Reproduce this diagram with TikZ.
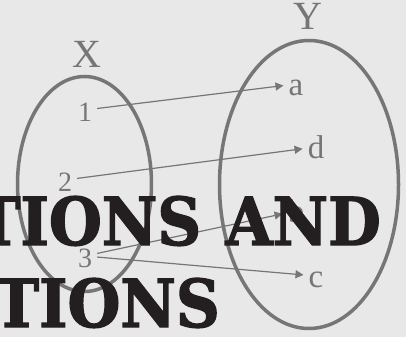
\documentclass[tikz,border=0pt]{standalone}
\usepackage{fontspec}
\usepackage{tikz}
\usetikzlibrary{arrows.meta,shapes.geometric}
\setmainfont{Liberation Serif}
\newfontfamily\slabfont{DejaVu Serif}[FakeBold=2, FakeStretch=0.92, WordSpace=1.15]
\definecolor{bgc}{HTML}{E8E8E8}
\definecolor{setc}{HTML}{767676}
\definecolor{titlec}{HTML}{231F20}
\tikzset{
  setring/.style={draw=setc, line width=3.5pt, ellipse, inner sep=0pt},
  setname/.style={text=setc, font=\fontsize{40}{40}\selectfont, inner sep=0pt, anchor=base},
  elem/.style={text=setc, font=\fontsize{#1}{#1}\selectfont, inner xsep=5pt, inner ysep=0pt,
    text height=22pt, text depth=0pt, anchor=base},
  mapto/.style={draw=setc, line width=1.2pt, -{Triangle[length=8pt,width=8pt]}},
  headline/.style={text=titlec, font=\slabfont\bfseries\fontsize{66}{66}\selectfont,
    inner sep=0pt, anchor=base east}
}

\begin{document}
\begin{tikzpicture}[x=1pt, y=-1pt]
 \path[use as bounding box, fill=bgc] (0,0) rectangle (406,337);
 \clip (0,0) rectangle (406,337);
 \node[setring, minimum width=134pt, minimum height=215pt] (setX) at (84.5,184) {};
 \node[setring, minimum width=179pt, minimum height=288pt] (setY) at (309,184.5) {};
 \node[setname] (lX) at (87,67) {X};
 \node[setname] (lY) at (308,30) {Y};
 \foreach \n/\x/\y in {1/85/121, 2/65/191, 3/85/267}
   \node[elem=28] (e\n) at (\x,\y) {\n};
 \foreach \n/\x/\y in {a/296/95, d/316/158, b/296/222, c/316/287}
   \node[elem=33] (e\n) at (\x,\y) {\n};
 \draw[mapto] (e1) -- (ea);
 \draw[mapto] (e2) -- (ed);
 \draw[mapto] (e3) -- (eb);
 \draw[mapto] (e3) -- (ec);
 \node[headline] (t1) at (381,245) {TIONS AND};
 \node[headline] (t2) at (220,327) {CTIONS};
\end{tikzpicture}
\end{document}
